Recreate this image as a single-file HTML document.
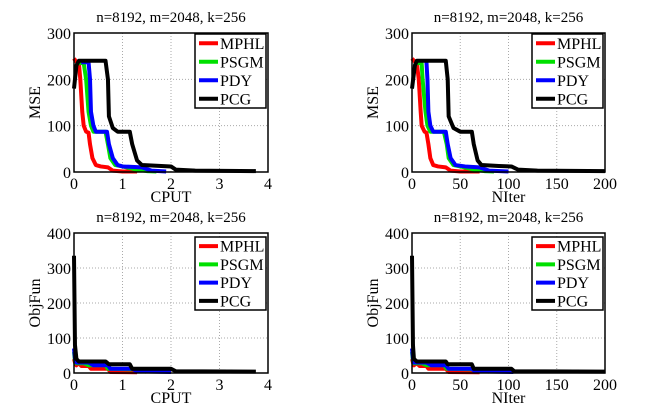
<!DOCTYPE html>
<html><head><meta charset="utf-8"><style>
html,body{margin:0;padding:0;background:#fff}
svg{display:block;font-family:"Liberation Serif",serif}
</style></head><body>
<svg id="c" width="656" height="417" viewBox="0 0 656 417"></svg>
<script>
const seriesNames=["MPHL","PSGM","PDY","PCG"];
const seriesColors=["#ff0000","#00e000","#0000ff","#000000"];
const cputTicks=[0,1,2,3,4];
const niterTicks=[0,50,100,150,200];
const mseTicks=[0,100,200,300];
const objTicks=[0,100,200,300,400];
// MSE vs CPUT
const mseCputX=[
 [0,0.03,0.1,0.13,0.17,0.2,0.25,0.3,0.33,0.38,0.45,0.55,0.7,0.8,1.0,1.3],
 [0.1,0.2,0.25,0.3,0.35,0.4,0.65,0.7,0.75,0.85,1.0,1.3,1.5,1.7],
 [0.15,0.3,0.33,0.35,0.4,0.45,0.68,0.72,0.8,0.9,1.0,1.4,1.6,1.9],
 [0,0.05,0.1,0.65,0.7,0.72,0.8,0.9,1.15,1.2,1.3,1.4,1.8,2.0,2.1,2.5,3.75]];
const mseCputY=[
 [245,240,235,200,130,100,87,85,60,30,15,12,10,3,1,1],
 [235,235,200,130,100,87,87,60,30,15,12,5,2,1],
 [237,237,200,130,100,87,87,60,30,15,12,10,3,1],
 [180,230,240,240,200,120,95,87,87,60,25,15,13,12,5,3,2]];
// MSE vs NIter
const mseIterX=[
 [0,2,5,7,9,10,13,15,17,19,22,27,35,40,50,70],
 [5,10,11,14,16,19,33,36,38,43,50,65,75,85],
 [13,15,16,17,19,22,35,37,40,45,55,70,80,100],
 [0,3,5,35,37,38,43,50,62,64,68,72,90,103,110,130,200]];
const mseIterY=mseCputY;
// ObjFun vs CPUT
const objCputX=[
 [0,0.02,0.05,0.1,0.15,0.3,0.35,0.7,0.75,1.3],
 [0,0.02,0.05,0.2,0.3,0.65,0.7,1.4,1.5],
 [0,0.02,0.05,0.3,0.4,0.7,0.75,1.2,1.3,2.0],
 [0,0.02,0.05,0.1,0.65,0.72,1.15,1.2,2.0,2.1,3.75]];
const objCputY=[
 [40,30,22,28,20,20,12,12,3,2],
 [60,35,28,28,22,22,12,10,3],
 [70,40,30,30,22,22,12,12,5,3],
 [335,80,40,33,33,25,25,12,12,5,4]];
const objIterX=[
 [0,1,2,5,8,15,17,35,38,70],
 [0,1,2,10,15,33,36,75,80],
 [0,1,2,15,20,35,38,62,65,105],
 [0,1,2,5,35,37,62,64,103,106,200]];
const objIterY=objCputY;

const svg=document.getElementById('c');
const NS='http://www.w3.org/2000/svg';
function el(t,a,p){const e=document.createElementNS(NS,t);for(const k in a)e.setAttribute(k,a[k]);(p||svg).appendChild(e);return e;}

function panel(id,L,R,T,B,xTicks,yTicks,xs,ys,xlabel,ylabel,legT,legB){
 const g=el('g',{});
 
 
 const x0=xTicks[0],x1=xTicks[xTicks.length-1],y0=yTicks[0],y1=yTicks[yTicks.length-1];
 const sx=v=>L+(v-x0)/(x1-x0)*(R-L);
 const sy=v=>B-(v-y0)/(y1-y0)*(B-T);
 xTicks.forEach(v=>{
  if(v!==x0&&v!==x1){const l=el('line',{x1:sx(v),x2:sx(v),y1:T,y2:B,stroke:'#aaa','stroke-dasharray':'1,2','stroke-width':1},g);
  }
  const t=el('text',{x:sx(v),y:B+17,'text-anchor':'middle','font-size':16},g);t.textContent=v;
  
 });
 yTicks.forEach(v=>{
  if(v!==y0&&v!==y1){const l=el('line',{x1:L,x2:R,y1:sy(v),y2:sy(v),stroke:'#aaa','stroke-dasharray':'1,2','stroke-width':1},g);
  }
  const t=el('text',{x:L-3,y:sy(v)+6,'text-anchor':'end','font-size':16},g);t.textContent=v;
  
 });
 xs.forEach((xa,i)=>{
  const pts=xa.map((x,j)=>sx(x)+','+sy(ys[i][j])).join(' ');
  const p=el('polyline',{points:pts,fill:'none',stroke:seriesColors[i],'stroke-width':4,'stroke-linejoin':'round'},g);
  
  
 });
 const ax=el('rect',{x:L,y:T,width:R-L,height:B-T,fill:'none',stroke:'#000','stroke-width':1.5},g);
 
 const tt=el('text',{x:(L+R)/2,y:T-11,'text-anchor':'middle','font-size':15},g);tt.textContent='n=8192, m=2048, k=256';
 
 const xl=el('text',{x:(L+R)/2,y:B+30,'text-anchor':'middle','font-size':16},g);xl.textContent=xlabel;
 
 const yl=el('text',{x:0,y:0,'text-anchor':'middle','font-size':16,transform:`translate(${L-34},${(T+B)/2}) rotate(-90)`},g);yl.textContent=ylabel;
 
 const lx=R-73,lw=71;
 const lg=el('g',{},g);
 
 el('rect',{x:lx,y:legT,width:lw,height:legB-legT,fill:'#fff',stroke:'#000','stroke-width':1.5},lg);
 const step=(legB-legT)/4;
 seriesNames.forEach((n,i)=>{
  const cy=legT+step*(i+0.5);
  const e=el('g',{},lg);
  
  el('line',{x1:lx+4,x2:lx+23,y1:cy,y2:cy,stroke:seriesColors[i],'stroke-width':4},e);
  const t=el('text',{x:lx+25,y:cy+5.5,'font-size':16},e);t.textContent=n;
 });
}
panel('mse-cput-plot',74,268,33,172,cputTicks,mseTicks,mseCputX,mseCputY,'CPUT','MSE',34,108);
panel('mse-niter-plot',412,605,33,172,niterTicks,mseTicks,mseIterX,mseIterY,'NIter','MSE',34,108);
panel('objfun-cput-plot',74,268,233,373,cputTicks,objTicks,objCputX,objCputY,'CPUT','ObjFun',237,310);
panel('objfun-niter-plot',412,605,233,373,niterTicks,objTicks,objIterX,objIterY,'NIter','ObjFun',237,310);
</script>
</body></html>
